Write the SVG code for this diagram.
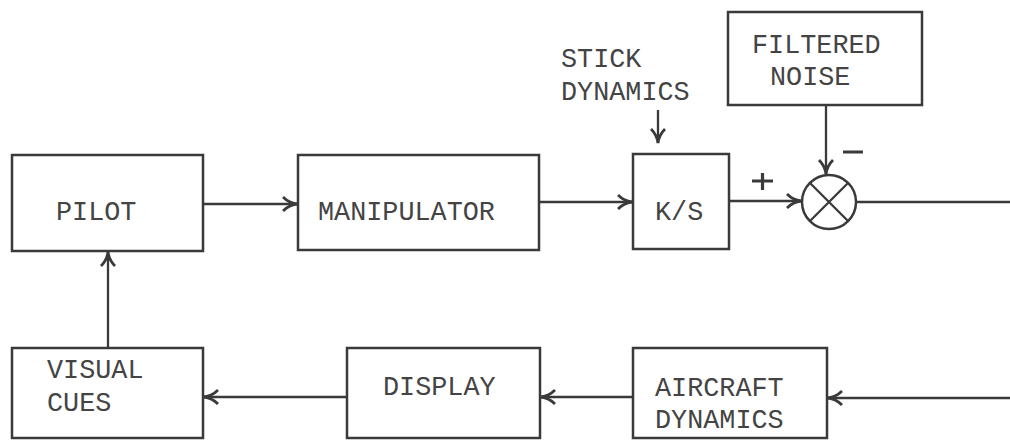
<svg xmlns="http://www.w3.org/2000/svg" width="1010" height="440" viewBox="0 0 1010 440">
<style>
.box{fill:none;stroke:#3a3a3a;stroke-width:2.5}
.ln{fill:none;stroke:#3a3a3a;stroke-width:2.3}
.t{font-family:"Liberation Mono","DejaVu Sans Mono",monospace;font-size:26.8px;fill:#444}
.sign{fill:none;stroke:#3a3a3a;stroke-width:3.2}
</style>
<defs>
<marker id="ah" viewBox="0 0 16 16" refX="15" refY="8" markerWidth="16" markerHeight="16" markerUnits="userSpaceOnUse" orient="auto">
<path d="M1,1 Q7,7 15,8 Q7,9 1,15" fill="none" stroke="#3a3a3a" stroke-width="2.8"/>
</marker>
</defs>
<rect width="1010" height="440" fill="#fff"/>
<g id="pilot"><rect class="box" x="12" y="155" width="191" height="96"/><text class="t" x="56" y="220">PILOT</text></g>
<g id="manipulator"><rect class="box" x="298" y="155" width="241" height="95"/><text class="t" x="318" y="220">MANIPULATOR</text></g>
<g id="ks"><rect class="box" x="633" y="154" width="96" height="95"/><text class="t" x="655" y="220">K/S</text></g>
<g id="stick"><text class="t" x="561" y="67">STICK</text><text class="t" x="561" y="100">DYNAMICS</text></g>
<g id="noise"><rect class="box" x="728" y="12" width="194" height="93"/><text class="t" x="752" y="53">FILTERED</text><text class="t" x="770" y="85">NOISE</text></g>
<g id="sum"><circle class="box" cx="829" cy="202" r="27"/><path class="ln" d="M810,183 L848,221 M848,183 L810,221"/><path class="sign" d="M752,181 H773 M762.5,173 V190 M843,152 H863"/></g>
<g id="visual"><rect class="box" x="12" y="348" width="191" height="90"/><text class="t" x="47" y="378">VISUAL</text><text class="t" x="47" y="411">CUES</text></g>
<g id="display"><rect class="box" x="347" y="348" width="193" height="90"/><text class="t" x="383" y="395">DISPLAY</text></g>
<g id="aircraft"><rect class="box" x="633" y="348" width="194" height="90"/><text class="t" x="655" y="396">AIRCRAFT</text><text class="t" x="655" y="428">DYNAMICS</text></g>
<g id="connectors">
<path class="ln" d="M203,204 H297" marker-end="url(#ah)"/>
<path class="ln" d="M539,202 H632" marker-end="url(#ah)"/>
<path class="ln" d="M658,110 V143" marker-end="url(#ah)"/>
<path class="ln" d="M729,201 H801" marker-end="url(#ah)"/>
<path class="ln" d="M826,105 V174" marker-end="url(#ah)"/>
<path class="ln" d="M856,202 H1010"/>
<path class="ln" d="M1010,398 H828" marker-end="url(#ah)"/>
<path class="ln" d="M633,397 H541" marker-end="url(#ah)"/>
<path class="ln" d="M347,397 H204" marker-end="url(#ah)"/>
<path class="ln" d="M108,348 V252" marker-end="url(#ah)"/>
</g>
</svg>
